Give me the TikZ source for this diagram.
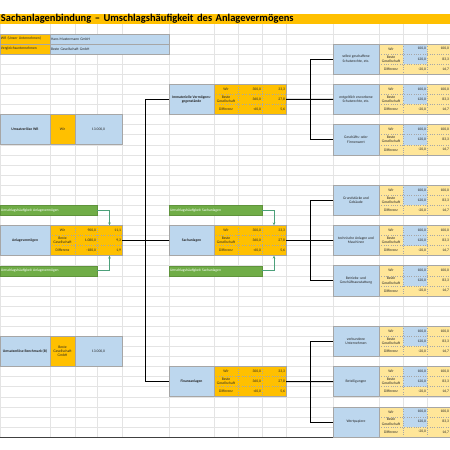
\documentclass[tikz,border=0pt]{standalone}
\usepackage{fontspec}
\setmainfont{Carlito}
\usetikzlibrary{arrows.meta}

\definecolor{xlorange}{HTML}{FFC000}
\definecolor{xlblue}{HTML}{BDD7EE}
\definecolor{xlyellow}{HTML}{FFE699}
\definecolor{xlgreen}{HTML}{70AD47}
\definecolor{xlarrow}{HTML}{4CA07A}
\definecolor{xlgrid}{HTML}{E4E4E4}
\definecolor{xlframe}{HTML}{A6A6A6}
\definecolor{xltext}{HTML}{262626}

\begin{document}
\begin{tikzpicture}[x=1pt, y=-1pt, font=\fontsize{3.7}{4.2}\selectfont,
  cell/.style = {anchor=north west, inner xsep=1pt, inner ysep=0pt, outer sep=0pt,
    minimum height=10.08pt, text=xltext},
  wide/.style = {cell, minimum width=#1, align=center},
  valnum/.style = {cell, text width=#1, align=right},
  tall/.style = {wide=#1, minimum height=30.24pt},
  hdr/.style = {font=\fontsize{3.7}{4.2}\selectfont\bfseries},
  bar/.style = {cell, fill=xlgreen, draw=xlgreen!85!black, line width=0.3pt,
    text=white, text width=#1, align=left},
  frame/.style = {draw=xlframe, line width=0.5pt},
  sepline/.style = {draw=xlframe, line width=0.3pt, dotted},
  tree/.style = {draw=black, line width=0.8pt},
  flow/.style = {draw=xlarrow, line width=0.8pt, -{Stealth[length=3pt, width=2.6pt]}},
  gridline/.style = {draw=xlgrid, line width=0.4pt}]

\useasboundingbox (0,0) rectangle (450,450);

% sheet grid
\foreach \x in {0.5,50,75,97,122,169,214,238,262,286,333,379,403,427}
  \draw[gridline] (\x,23.76) -- (\x,437.04);
\foreach \k in {3,...,42}
  \draw[gridline] (0,{3.6+10.08*\k}) -- (450,{3.6+10.08*\k});
\draw[line width=0.9pt, draw=black!75] (0,437.04) -- (450,437.04);

% title
\node[cell, fill=xlorange, text width=448pt, align=left, text=black,
  font=\fontsize{10.5}{12}\selectfont\bfseries] (title) at (0,13.68)
  {Sachanlagenbindung – Umschlagshäufigkeit des Anlagevermögens};

% companies
\node[cell, fill=xlorange, text width=48pt, align=left] (wrlab) at (0,33.84) {WR (Unser Unternehmen)};
\node[cell, fill=xlblue, text width=117pt, align=left] (wrval) at (50,33.84) {Hans Mustermann GmbH};
\node[cell, fill=xlorange, text width=48pt, align=left] (vglab) at (0,43.92) {Vergleichsunternehmen};
\node[cell, fill=xlblue, text width=117pt, align=left] (vgval) at (50,43.92) {Beste Gesellschaft GmbH};
\draw[frame] (wrlab.north west) rectangle (vgval.south east)
  (wrlab.south west) -- (wrval.south east) (wrval.north west) -- (vgval.south west);

% revenue WR
\node[tall=50pt, fill=xlblue, hdr] (uwr) at (0,114.48) {Umsatzerlöse WR};
\node[tall=25pt, fill=xlorange] (uwr-b) at (50,114.48) {Wir};
\node[tall=47pt, fill=xlblue] (uwr-c) at (75,114.48) {13.000,0};
\draw[frame] (uwr.north west) rectangle (uwr-c.south east)
  (uwr-b.north west) -- (uwr-b.south west) (uwr-c.north west) -- (uwr-c.south west);

% fixed assets
\node[bar=95pt] (gt1) at (0,205.2) {Umschlagshäufigkeit Anlagevermögen};
\node[tall=50pt, fill=xlblue, hdr] (anl) at (0,225.36) {Anlagevermögen};
\node[wide=25pt, fill=xlorange] (anl-b1) at (50,225.36) {Wir};
\node[wide=25pt, fill=xlorange] (anl-b2) at (50,235.44) {Beste\\Gesellschaft};
\node[wide=25pt, fill=xlorange] (anl-b3) at (50,245.52) {Differenz};
\node[valnum=20pt, fill=xlorange] (anl-c1) at (75,225.36) {900,0};
\node[valnum=20pt, fill=xlorange] (anl-c2) at (75,235.44) {1.080,0};
\node[valnum=20pt, fill=xlorange] (anl-c3) at (75,245.52) {-180,0};
\node[valnum=23pt, fill=xlorange] (anl-d1) at (97,225.36) {11,1};
\node[valnum=23pt, fill=xlorange] (anl-d2) at (97,235.44) {9,3};
\node[valnum=23pt, fill=xlorange] (anl-d3) at (97,245.52) {1,9};
\draw[frame] (anl.north west) rectangle (anl-d3.south east) (anl-b1.north west) -- (anl-b3.south west);
\draw[sepline] (anl-b1.south west) -- (anl-d1.south east) (anl-b2.south west) -- (anl-d2.south east)
  (anl-c1.north west) -- (anl-c3.south west) (anl-d1.north west) -- (anl-d3.south west);
\node[bar=95pt] (gb1) at (0,265.68) {Umschlagshäufigkeit Anlagevermögen};

% revenue benchmark
\node[tall=50pt, fill=xlblue, hdr] (ubm) at (0,336.24) {Umsatzerlöse Benchmark (B)};
\node[tall=25pt, fill=xlorange] (ubm-b) at (50,336.24) {Beste\\Gesellschaft\\GmbH};
\node[tall=47pt, fill=xlblue] (ubm-c) at (75,336.24) {13.000,0};
\draw[frame] (ubm.north west) rectangle (ubm-c.south east)
  (ubm-b.north west) -- (ubm-b.south west) (ubm-c.north west) -- (ubm-c.south west);

% second level
\node[bar=91pt] (gt2) at (169,205.2) {Umschlagshäufigkeit Sachanlagen};
\node[bar=91pt] (gb2) at (169,265.68) {Umschlagshäufigkeit Sachanlagen};
\foreach \row/\nm/\txt in {8/imm/{Immaterielle Vermögens-\\gegenstände},
    22/sach/Sachanlagen, 36/fin/Finanzanlagen} {
  \node[tall=45pt, fill=xlblue, hdr] (\nm) at (169,{3.6+10.08*\row}) {\txt};
  \node[wide=24pt, fill=xlorange] (\nm-g1) at (214,{3.6+10.08*\row}) {Wir};
  \node[wide=24pt, fill=xlorange] (\nm-g2) at (214,{13.68+10.08*\row}) {Beste\\Gesellschaft};
  \node[wide=24pt, fill=xlorange] (\nm-g3) at (214,{23.76+10.08*\row}) {Differenz};
  \node[valnum=22pt, fill=xlorange] (\nm-h1) at (238,{3.6+10.08*\row}) {300,0};
  \node[valnum=22pt, fill=xlorange] (\nm-h2) at (238,{13.68+10.08*\row}) {360,0};
  \node[valnum=22pt, fill=xlorange] (\nm-h3) at (238,{23.76+10.08*\row}) {-60,0};
  \node[valnum=22pt, fill=xlorange] (\nm-i1) at (262,{3.6+10.08*\row}) {33,3};
  \node[valnum=22pt, fill=xlorange] (\nm-i2) at (262,{13.68+10.08*\row}) {27,8};
  \node[valnum=22pt, fill=xlorange] (\nm-i3) at (262,{23.76+10.08*\row}) {5,6};
  \draw[frame] (\nm.north west) rectangle (\nm-i3.south east) (\nm-g1.north west) -- (\nm-g3.south west);
  \draw[sepline] (\nm-g1.south west) -- (\nm-i1.south east) (\nm-g2.south west) -- (\nm-i2.south east)
    (\nm-h1.north west) -- (\nm-h3.south west) (\nm-i1.north west) -- (\nm-i3.south west);
}

% third level
\foreach \row/\nm/\txt in {4/r1/{selbst geschaffene\\Schutzrechte, etc.},
    8/r2/{entgeltlich erworbene\\Schutzrechte, etc.}, 12/r3/{Geschäfts- oder\\Firmenwert},
    18/r4/{Grundstücke und\\Gebäude}, 22/r5/{technische Anlagen und\\Maschinen},
    26/r6/{Betriebs- und\\Geschäftsausstattung}, 32/r7/{verbundene\\Unternehmen},
    36/r8/Beteiligungen, 40/r9/Wertpapiere} {
  \node[tall=46pt, fill=xlblue] (\nm) at (333,{3.6+10.08*\row}) {\txt};
  \node[wide=24pt, fill=xlyellow] (\nm-l1) at (379,{3.6+10.08*\row}) {Wir};
  \node[wide=24pt, fill=xlyellow] (\nm-l2) at (379,{13.68+10.08*\row}) {Beste\\Gesellschaft};
  \node[wide=24pt, fill=xlyellow] (\nm-l3) at (379,{23.76+10.08*\row}) {Differenz};
  \node[valnum=22pt, fill=xlblue] (\nm-m1) at (403,{3.6+10.08*\row}) {100,0};
  \node[valnum=22pt, fill=xlblue] (\nm-m2) at (403,{13.68+10.08*\row}) {120,0};
  \node[valnum=22pt, fill=xlyellow] (\nm-m3) at (403,{23.76+10.08*\row}) {-20,0};
  \node[valnum=21pt, fill=xlyellow] (\nm-n1) at (427,{3.6+10.08*\row}) {100,0};
  \node[valnum=21pt, fill=xlyellow] (\nm-n2) at (427,{13.68+10.08*\row}) {83,3};
  \node[valnum=21pt, fill=xlyellow] (\nm-n3) at (427,{23.76+10.08*\row}) {16,7};
  \draw[frame] (\nm.north west) rectangle (\nm-n3.south east) (\nm-l1.north west) -- (\nm-l3.south west);
  \draw[sepline] (\nm-l1.south west) -- (\nm-n1.south east) (\nm-l2.south west) -- (\nm-n2.south east)
    (\nm-m1.north west) -- (\nm-m3.south west) (\nm-n1.north west) -- (\nm-n3.south west);
}

% connectors
\draw[tree] (anl-d2.east) -- (sach.west);
\draw[tree] (imm.west) -- ++(-24,0) |- (fin.west);
\draw[tree] (imm-i2.east) -- (r2.west);
\draw[tree] (sach-i2.east) -- (r5.west);
\draw[tree] (fin-i2.east) -- (r8.west);
\draw[tree] (r1.west) -- ++(-23,0) |- (r3.west);
\draw[tree] (r4.west) -- ++(-23,0) |- (r6.west);
\draw[tree] (r7.west) -- ++(-23,0) |- (r9.west);
\draw[flow] (gt1.east) -| (anl-d1.north);
\draw[flow] (gb1.east) -| (anl-d3.south);
\draw[flow] (gt2.east) -| (sach-i1.north);
\draw[flow] (gb2.east) -| (sach-i3.south);

\end{tikzpicture}
\end{document}
